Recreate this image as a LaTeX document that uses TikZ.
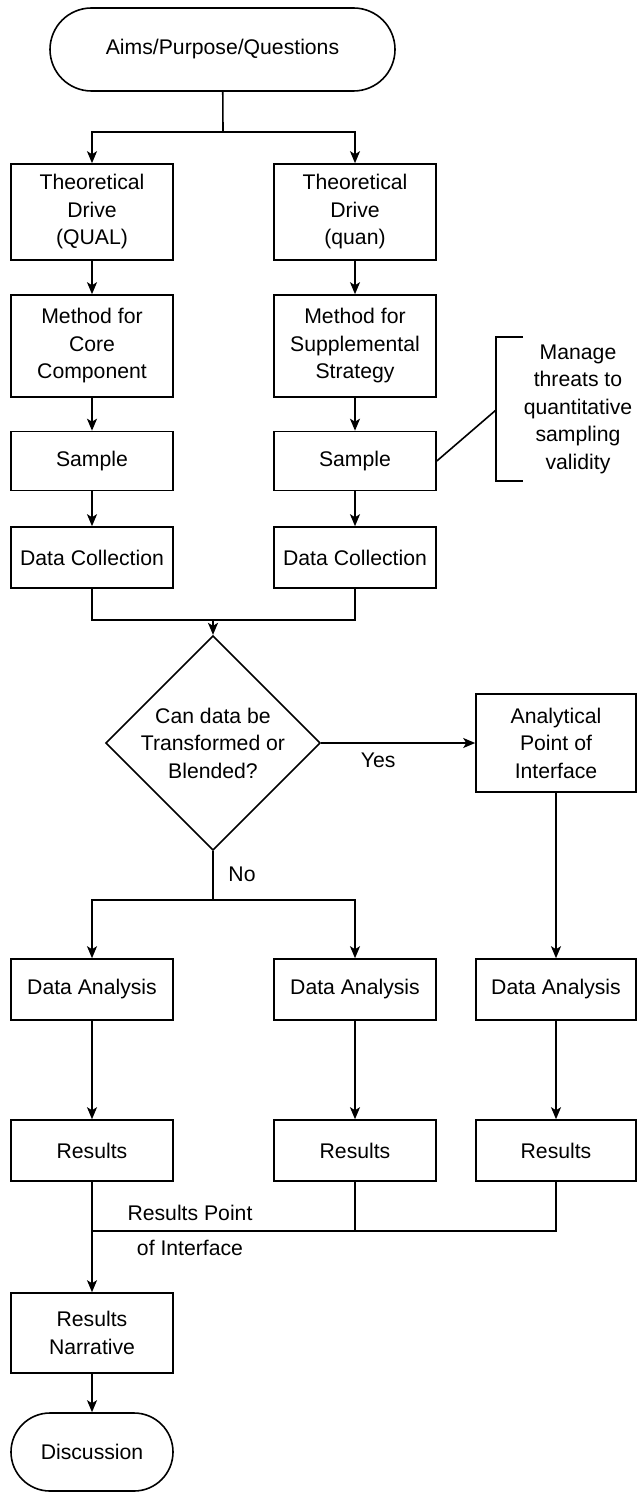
\documentclass[tikz,border=0pt]{standalone}
\usepackage{fontspec}
\setmainfont{Liberation Sans}
\usetikzlibrary{shapes.geometric,shapes.misc,arrows.meta}

\begin{document}
\begin{tikzpicture}[x=0.5pt,y=-0.5pt,
  every node/.style={font=\fontsize{10.6}{13.75}\selectfont, align=center},
  box/.style={draw, line width=0.8pt, minimum width=81pt, inner sep=0pt},
  term/.style={draw, line width=0.8pt, rounded rectangle, inner sep=0pt},
  decision/.style={draw, line width=0.8pt, diamond, aspect=1, minimum width=95.5pt, minimum height=95.5pt, inner sep=0pt},
  line/.style={line width=0.8pt},
  arr/.style={line width=0.8pt, -{Stealth[length=6pt,width=5pt,inset=1.5pt]}}
]
\useasboundingbox (0,0) rectangle (637,1492);


\node[term, minimum width=172.5pt, minimum height=41.5pt] (aims) at (222.5,49.5) {Aims/Purpose/Questions};


\node[box, minimum height=48pt] (tdqual) at (92,212) {Theoretical\\Drive\\(QUAL)};
\node[box, minimum height=48pt] (tdquan) at (355,212) {Theoretical\\Drive\\(quan)};

\node[box, minimum height=51pt] (mcore) at (92,346) {Method for\\Core\\Component};
\node[box, minimum height=51pt] (msupp) at (355,346) {Method for\\Supplemental\\Strategy};

\node[box, minimum height=29.5pt] (sleft) at (92,461) {Sample};
\node[box, minimum height=29.5pt] (sright) at (355,461) {Sample};

\node[box, minimum height=30.5pt] (dcleft) at (92,557.5) {Data Collection};
\node[box, minimum height=30.5pt] (dcright) at (355,557.5) {Data Collection};


\node (note) at (578,409) {Manage\\threats to\\quantitative\\sampling\\validity};
\draw[line] (523,337) -- (496,337) -- (496,481) -- (523,481);
\coordinate (brk) at (496,410);


\node[decision] (decide) at (213,743) {Can data be\\Transformed or\\Blended?};
\node[box, minimum width=80pt, minimum height=49pt] (apoi) at (556,743) {Analytical\\Point of\\Interface};


\node[box, minimum height=30.5pt] (daleft) at (92,989.5) {Data Analysis};
\node[box, minimum height=30.5pt] (damid) at (355,989.5) {Data Analysis};
\node[box, minimum width=80pt, minimum height=30.5pt] (daright) at (556,989.5) {Data Analysis};

\node[box, minimum height=30.5pt] (rleft) at (92,1150.5) {Results};
\node[box, minimum height=30.5pt] (rmid) at (355,1150.5) {Results};
\node[box, minimum width=80pt, minimum height=30.5pt] (rright) at (556,1150.5) {Results};

\node[box, minimum height=40pt] (narr) at (92,1333) {Results\\Narrative};
\node[term, minimum width=81pt, minimum height=39pt] (disc) at (92,1452) {Discussion};


\coordinate (split1) at (223,132);
\coordinate (merge1) at (213,620);
\coordinate (split2) at (213,900);
\coordinate (join) at (92,1231);


\draw[line] (aims) -- (split1);
\draw[arr] (split1) -| (tdqual.north);
\draw[arr] (split1) -| (tdquan.north);

\draw[arr] (tdqual) -- (mcore);
\draw[arr] (tdquan) -- (msupp);
\draw[arr] (mcore) -- (sleft);
\draw[arr] (msupp) -- (sright);
\draw[arr] (sleft) -- (dcleft);
\draw[arr] (sright) -- (dcright);

\draw[line] (sright.east) -- (brk);

\draw[line] (dcleft.south) |- (merge1) -| (dcright.south);
\draw[arr] (merge1) -- (decide.north);

\draw[arr] (decide.east) -- node[below, pos=0.37, yshift=-1pt] {Yes} (apoi.west);
\draw[line] (decide.south) -- node[right, pos=0.48, xshift=4pt] {No} (split2);
\draw[arr] (split2) -| (daleft.north);
\draw[arr] (split2) -| (damid.north);
\draw[arr] (apoi) -- (daright);

\draw[arr] (daleft) -- (rleft);
\draw[arr] (damid) -- (rmid);
\draw[arr] (daright) -- (rright);

\draw[line] (rright.south) |- (join);
\draw[line] (rmid.south) |- (join);
\draw[arr] (rleft) -- (narr);
\node at (190,1230.5) {Results Point\\[3.75pt]of Interface};

\draw[arr] (narr) -- (disc);

\end{tikzpicture}
\end{document}
